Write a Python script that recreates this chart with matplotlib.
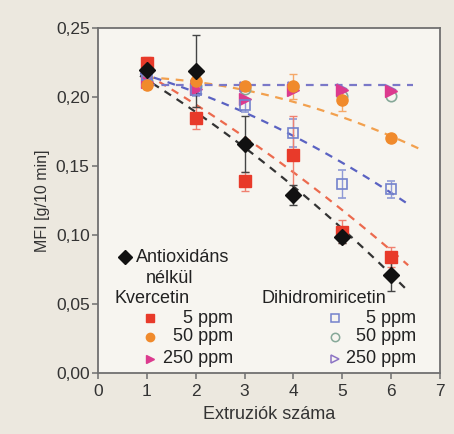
import numpy as np
import matplotlib.pyplot as plt

plt.rcParams['font.family'] = ['Liberation Sans', 'DejaVu Sans']

# number of extrusions
extr = [1, 2, 3, 4, 5, 6]

# MFI values [g/10 min]
no_antiox = [0.220, 0.219, 0.166, 0.129, 0.0985, 0.071]
no_antiox_err = [0.003, 0.026, 0.020, 0.007, 0.004, 0.012]

kv_5 = [0.225, 0.185, 0.139, 0.158, 0.1025, 0.084]
kv_5_err = [0.004, 0.008, 0.007, 0.028, 0.008, 0.007]
kv_50 = [0.209, 0.212, 0.208, 0.208, 0.198, 0.170]
kv_50_err = [0.003, 0.003, 0.003, 0.009, 0.008, 0.002]
kv_250 = [0.211, 0.206, 0.199, 0.205, 0.205, 0.2045]

dhm_5 = [0.216, 0.205, 0.194, 0.174, 0.137, 0.133]
dhm_5_err = [0.003, 0.004, 0.005, 0.010, 0.010, 0.006]
dhm_50 = [0.212, 0.208, 0.206, 0.207, 0.2005, 0.2008]
dhm_250 = [0.214, 0.209, 0.207, 0.207, 0.206, 0.205]

# dashed trend curves: quadratic coefficients (highest power first) and x range
trend_black = [-0.00123, -0.0196, 0.2333]
trend_red = [-0.000946, -0.0189, 0.2362]
trend_orange = [-0.00131, 0.00064, 0.2150]
trend_blue = [-0.00120, -0.00864, 0.2256]
trend_flat = [0.0, 0.0, 0.2085]
trend_ranges = [(0.86, 6.32), (1.0, 6.35), (1.0, 6.6), (0.86, 6.3), (1.0, 6.45)]

fig = plt.figure(figsize=(4.54, 4.34), dpi=100, facecolor='#ece8df')
ax = fig.add_axes([0.216, 0.141, 0.753, 0.794])
ax.set_facecolor('#f7f5f0')

trend_list = [(trend_black, '#333333'), (trend_red, '#ec6a4e'),
              (trend_orange, '#f2a04e'), (trend_blue, '#5a62c2'),
              (trend_flat, '#7a78c8')]
for (coef, col), (x0, x1) in zip(trend_list, trend_ranges):
    xs = np.linspace(x0, x1, 50)
    ax.plot(xs, np.polyval(coef, xs), ls=(0, (3.5, 3)), color=col, lw=1.6, zorder=1.5)

# Dihidromiricetin series (open markers)
ax.errorbar(extr, dhm_5, yerr=dhm_5_err, fmt='s', ms=7.5, mfc='none', mec='#7482cc',
            mew=1.2, ecolor='#8f9ad6', elinewidth=1, capsize=3, zorder=3)
ax.plot(extr, dhm_50, 'o', ms=7.5, mfc='none', mec='#86a898', mew=1.2, zorder=3)
ax.plot(extr, dhm_250, '>', ms=7.5, mfc='none', mec='#8c74c4', mew=1.2, zorder=3)

# Kvercetin series
ax.errorbar(extr, kv_50, yerr=kv_50_err, fmt='o', ms=8, color='#f08a2c',
            ecolor='#f5a868', elinewidth=1, capsize=3, zorder=3)
ax.errorbar(extr, kv_5, yerr=kv_5_err, fmt='s', ms=8, color='#e83a2a',
            ecolor='#f08070', elinewidth=1, capsize=3, zorder=3)
ax.errorbar(extr, no_antiox, yerr=no_antiox_err, fmt='D', ms=8, color='#111111',
            ecolor='#444444', elinewidth=1, capsize=3, zorder=3)
ax.plot(extr, kv_250, '>', ms=8.5, color='#dc3a8e', zorder=3)

ax.set_xlim(0, 7)
ax.set_ylim(0, 0.25)
ax.set_xticks(range(0, 8))
yt = [0, 0.05, 0.10, 0.15, 0.20, 0.25]
ax.set_yticks(yt)
ax.set_yticklabels([f'{v:.2f}'.replace('.', ',') for v in yt])
ax.tick_params(direction='out', length=4, width=1.1, color='#6e6e6e',
               labelsize=12.5, labelcolor='#333333')
ax.tick_params(axis='x', pad=4)
ax.tick_params(axis='y', pad=2)
for s in ax.spines.values():
    s.set_color('#707070')
    s.set_linewidth(1.3)

ax.set_xlabel('Extruziók száma', fontsize=13, color='#333333', labelpad=5)
ax.set_ylabel('MFI [g/10 min]', fontsize=11.5, color='#333333', labelpad=4)

# hand-made legend inside the axes
tr = ax.transAxes
tk = dict(transform=tr, fontsize=13, color='#222222', va='center')
mk = dict(transform=tr, clip_on=False, ls='none')
ax.plot([0.079], [0.336], 'D', ms=7, color='#111111', **mk)
ax.text(0.112, 0.336, 'Antioxidáns', ha='left', **tk)
ax.text(0.21, 0.275, 'nélkül', ha='center', **tk)
ax.text(0.048, 0.217, 'Kvercetin', ha='left', **tk)
ax.text(0.478, 0.217, 'Dihidromiricetin', ha='left', **tk)

legend_rows = [0.159, 0.104, 0.041]
legend_labels = ['5 ppm', '50 ppm', '250 ppm']
left_marks = [('s', '#e83a2a'), ('o', '#f08a2c'), ('>', '#dc3a8e')]
right_marks = [('s', '#7482cc'), ('o', '#86a898'), ('>', '#8c74c4')]
for yy, lab, (m1, c1), (m2, c2) in zip(legend_rows, legend_labels, left_marks, right_marks):
    ax.plot([0.152], [yy], m1, ms=6, color=c1, **mk)
    ax.text(0.395, yy, lab, ha='right', **tk)
    ax.plot([0.693], [yy], m2, ms=6, mfc='none', mec=c2, mew=1.1, **mk)
    ax.text(0.93, yy, lab, ha='right', **tk)

fig.savefig('out.png', dpi=100, facecolor=fig.get_facecolor())
